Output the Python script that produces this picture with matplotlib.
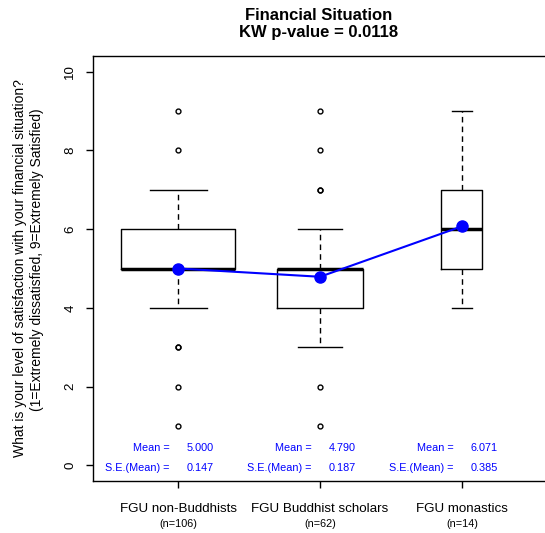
import numpy as np
import matplotlib.pyplot as plt

plt.rcParams['font.family'] = ['Liberation Sans', 'DejaVu Sans']

# Box statistics
groups = ["FGU non-Buddhists", "FGU Buddhist scholars", "FGU monastics"]
n_obs = [106, 62, 14]
q1 = [5, 4, 5]
medians = [5, 5, 6]
q3 = [6, 5, 7]
whisk_lo = [4, 3, 4]
whisk_hi = [7, 6, 9]
outliers = [[9, 8, 3, 3, 2, 1], [9, 8, 7, 7, 2, 1], []]

means = [5.000, 4.790, 6.071]
se_means = [0.147, 0.187, 0.385]

title = "Financial Situation\nKW p-value = 0.0118"
ylabel_1 = "What is your level of satisfaction with your financial situation?"
ylabel_2 = "(1=Extremely dissatisfied, 9=Extremely Satisfied)"

fig = plt.figure(figsize=(5.45, 5.33), dpi=100)
ax = fig.add_axes([93 / 545, 1 - 481 / 533, (547 - 93) / 545, (481 - 56) / 533])

positions = np.arange(1, len(groups) + 1)
# R style varwidth: width proportional to sqrt(n)
widths = 0.8 * np.sqrt(n_obs) / np.sqrt(max(n_obs))

stats = []
for i in range(len(groups)):
    stats.append({
        "med": medians[i], "q1": q1[i], "q3": q3[i],
        "whislo": whisk_lo[i], "whishi": whisk_hi[i],
        "fliers": outliers[i],
    })

bp = ax.bxp(
    stats, positions=positions, widths=widths, showfliers=True,
    boxprops=dict(color="black", linewidth=1.0),
    medianprops=dict(color="black", linewidth=2.5, solid_capstyle="butt"),
    whiskerprops=dict(color="black", linewidth=1.0, linestyle=(0, (4, 3))),
    capprops=dict(color="black", linewidth=1.0),
    flierprops=dict(marker="o", markersize=3.5, markerfacecolor="none",
                    markeredgecolor="black", markeredgewidth=1.0),
    manage_ticks=False,
)
# caps half the box width
for i, cap in enumerate(bp["caps"]):
    g = i // 2
    cap.set_xdata([positions[g] - widths[g] / 4, positions[g] + widths[g] / 4])

# means joined by a line
ax.plot(positions, means, color="#0000FF", linewidth=1.5, marker="o",
        markersize=8, zorder=5)

blue = "#0000FF"
for i in range(len(groups)):
    ax.annotate("Mean =", xy=(positions[i], 0.43), xytext=(-6, 0),
                textcoords="offset points", color=blue,
                fontsize=7.8, ha="right", va="center")
    ax.annotate(f"{means[i]:.3f}", xy=(positions[i], 0.43), xytext=(6, 0),
                textcoords="offset points", color=blue,
                fontsize=7.8, ha="left", va="center")
    ax.annotate("S.E.(Mean) =", xy=(positions[i], -0.08), xytext=(-6, 0),
                textcoords="offset points", color=blue,
                fontsize=7.8, ha="right", va="center")
    ax.annotate(f"{se_means[i]:.3f}", xy=(positions[i], -0.08), xytext=(6, 0),
                textcoords="offset points", color=blue,
                fontsize=7.8, ha="left", va="center")

ax.set_xlim(0.4, 3.6)
ax.set_ylim(-0.4, 10.4)

ax.set_xticks(positions)
ax.set_xticklabels(groups, fontsize=9.6)
ax.set_yticks([0, 2, 4, 6, 8, 10])
ax.set_yticklabels(["0", "2", "4", "6", "8", "10"], fontsize=9.6,
                   rotation=90, va="center")
ax.tick_params(axis="both", direction="out", length=5, width=1.0)
ax.tick_params(axis="x", pad=10.5)
ax.tick_params(axis="y", pad=7)

for i in range(len(groups)):
    ax.annotate(f"(n={n_obs[i]})", xy=(positions[i], 0),
                xycoords=("data", "axes fraction"),
                xytext=(0, -31), textcoords="offset points",
                ha="center", va="center", fontsize=7.8)

ax.spines["right"].set_visible(False)
for s in ["left", "top", "bottom"]:
    ax.spines[s].set_linewidth(1.0)

fig.text(0.5 * (93 + 545) / 545, 1 - 24 / 533, title, ha="center",
         va="center", fontsize=12, fontweight="bold", linespacing=1.25)
fig.text(20 / 545, 1 - 268 / 533, ylabel_1, rotation=90, ha="center",
         va="center", fontsize=10)
fig.text(37 / 545, 1 - 260 / 533, ylabel_2, rotation=90, ha="center",
         va="center", fontsize=10)

fig.savefig("out.png", dpi=100)
